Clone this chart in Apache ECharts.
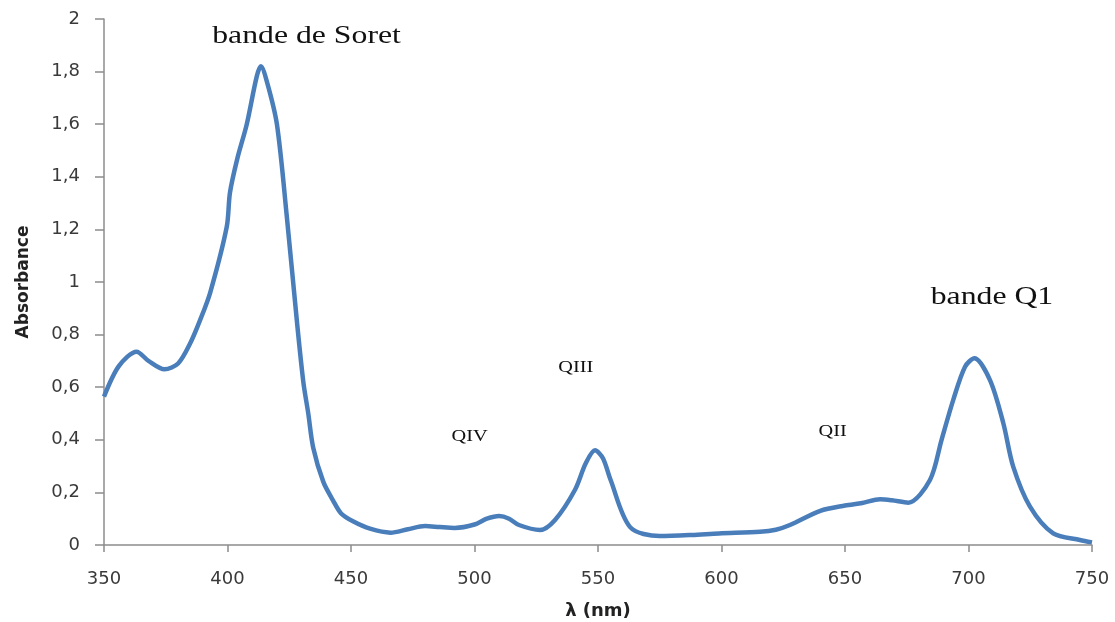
<!DOCTYPE html>
<html>
<head>
<meta charset="utf-8">
<script src="https://cdn.jsdelivr.net/npm/echarts@6/dist/echarts.min.js"></script>
<style>
  html, body { margin: 0; padding: 0; background: #fff; }
  #chart { width: 1115px; height: 622px; }
</style>
</head>
<body>
<div id="chart"></div>
<script>
// Absorption spectrum: wavelength (nm) and absorbance
const wavelength = [350, 356, 363.2, 368, 374.5, 380, 384.8, 388.9, 393, 399.7, 401, 404, 407.8, 411.8, 413.5, 416, 420, 424, 428, 430.7, 432.7, 434.7, 438.8, 442.7, 446, 450.8, 457.7, 466, 473, 480, 486, 492, 500, 505, 510, 514, 518, 526.5, 532.6, 540.7, 545, 548.8, 552, 555, 563, 575, 588, 599, 615.6, 622, 627.7, 640, 650, 657, 664.2, 669, 675.6, 684.4, 689.1, 693.8, 698.6, 702.4, 708.7, 714.1, 718.1, 724.9, 734.3, 745.1, 750];
const absorbance = [0.564, 0.68, 0.735, 0.70, 0.668, 0.69, 0.765, 0.855, 0.96, 1.21, 1.34, 1.47, 1.60, 1.78, 1.82, 1.76, 1.60, 1.25, 0.86, 0.62, 0.50, 0.37, 0.24, 0.17, 0.12, 0.09, 0.062, 0.047, 0.06, 0.072, 0.068, 0.065, 0.078, 0.10, 0.11, 0.10, 0.076, 0.057, 0.095, 0.21, 0.31, 0.36, 0.33, 0.25, 0.068, 0.034, 0.038, 0.044, 0.05, 0.058, 0.076, 0.13, 0.15, 0.16, 0.174, 0.17, 0.161, 0.247, 0.40, 0.551, 0.678, 0.71, 0.627, 0.463, 0.298, 0.146, 0.044, 0.019, 0.01];

// Band annotations: [label, wavelength, absorbance, font size]
const bandLabels = [
  ['bande de Soret', 432, 1.935, 25],
  ['bande Q1', 709.5, 0.94, 25],
  ['QIII', 541, 0.673, 16],
  ['QIV', 498, 0.41, 16],
  ['QII', 645, 0.43, 16]
];

const xTicks = { min: 350, max: 750, interval: 50 };
const yTicks = { min: 0, max: 2, interval: 0.2 };

const chart = echarts.init(document.getElementById('chart'));
const axisFont = { fontFamily: 'DejaVu Sans', fontSize: 18, color: '#3a3a3a' };
const axisGray = '#8c8c8c';

chart.setOption({
  animation: false,
  backgroundColor: '#ffffff',
  grid: { left: 104, right: 23, top: 19, bottom: 77, containLabel: false, outerBoundsMode: 'none' },
  xAxis: {
    type: 'value',
    min: xTicks.min, max: xTicks.max, interval: xTicks.interval,
    name: 'λ (nm)',
    nameLocation: 'middle',
    nameGap: 57,
    nameTextStyle: { fontFamily: 'DejaVu Sans', fontSize: 18, fontWeight: 'bold', color: '#222' },
    axisLine: { lineStyle: { color: axisGray, width: 1.5 } },
    axisTick: { show: true, length: 7, lineStyle: { color: axisGray, width: 1.5 } },
    axisLabel: Object.assign({ margin: 25 }, axisFont),
    splitLine: { show: false }
  },
  yAxis: {
    type: 'value',
    min: yTicks.min, max: yTicks.max, interval: yTicks.interval,
    name: 'Absorbance',
    nameLocation: 'middle',
    nameGap: 72,
    nameRotate: 90,
    nameTextStyle: { fontFamily: 'DejaVu Sans', fontSize: 17, fontWeight: 'bold', color: '#222' },
    axisLine: { show: true, lineStyle: { color: axisGray, width: 1.5 } },
    axisTick: { show: true, length: 9, lineStyle: { color: axisGray, width: 1.5 } },
    axisLabel: Object.assign({
      margin: 24,
      formatter: v => String(Math.round(v * 10) / 10).replace('.', ',')
    }, axisFont),
    splitLine: { show: false }
  },
  series: [{
    type: 'line',
    data: wavelength.map((w, i) => [w, absorbance[i]]),
    smooth: 0.3,
    showSymbol: false,
    lineStyle: { color: '#4a7ebb', width: 4.5 },
    itemStyle: { color: '#4a7ebb' }
  }]
});

// Band names, placed in data coordinates and widened like the rest of the lettering
chart.setOption({
  graphic: bandLabels.map(b => {
    const p = chart.convertToPixel({ gridIndex: 0 }, [b[1], b[2]]);
    return {
      type: 'text',
      x: p[0], y: p[1],
      scaleX: 1.27,
      silent: true,
      style: {
        text: b[0],
        font: b[3] + 'px "Liberation Serif"',
        fill: '#111',
        textAlign: 'center',
        textVerticalAlign: 'middle'
      }
    };
  })
});
</script>
</body>
</html>
